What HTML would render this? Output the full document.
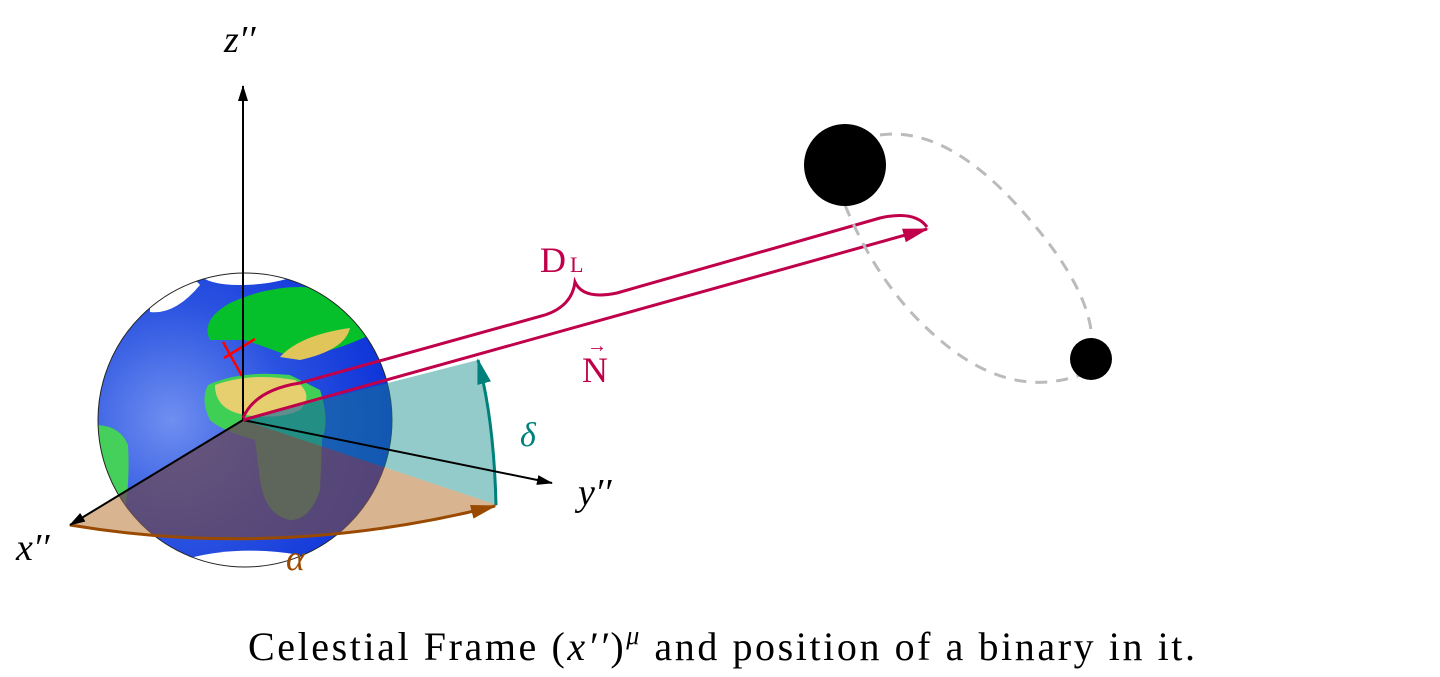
<!DOCTYPE html>
<html><head><meta charset="utf-8"><style>
html,body{margin:0;padding:0;background:#fff;width:1440px;height:677px;overflow:hidden}
svg{display:block}
text{font-family:"Liberation Serif",serif}
</style></head><body>
<svg width="1440" height="677" viewBox="0 0 1440 677" xmlns="http://www.w3.org/2000/svg">
<defs>
<radialGradient id="oc" cx="0.25" cy="0.5" r="0.8">
<stop offset="0" stop-color="#6f8ff0"/><stop offset="0.5" stop-color="#2a52e0"/><stop offset="1" stop-color="#0a2fd8"/>
</radialGradient>
<marker id="ab" markerWidth="16" markerHeight="10" refX="15" refY="5" orient="auto" markerUnits="userSpaceOnUse"><path d="M0,0 L16,5 L0,10 Z" fill="#000"/></marker>
<marker id="ar" markerWidth="26" markerHeight="14" refX="24" refY="7" orient="auto" markerUnits="userSpaceOnUse"><path d="M0,0 L26,7 L0,14 Z" fill="#c0004a"/></marker>
<marker id="ao" markerWidth="26" markerHeight="14" refX="24" refY="7" orient="auto" markerUnits="userSpaceOnUse"><path d="M0,0 L26,7 L0,14 Z" fill="#9a4a00"/></marker>
<marker id="at" markerWidth="26" markerHeight="14" refX="24" refY="7" orient="auto" markerUnits="userSpaceOnUse"><path d="M0,0 L26,7 L0,14 Z" fill="#00807a"/></marker>
<clipPath id="gc"><circle cx="245" cy="420" r="147"/></clipPath>
</defs>
<circle cx="245" cy="420" r="147" fill="url(#oc)"/>
<g clip-path="url(#gc)">
<path d="M150,300 Q190,270 200,285 Q175,315 150,312 Z" fill="#fff"/>
<path d="M195,268 L310,270 Q280,285 240,285 Q200,285 195,268Z" fill="#fff"/>
<path d="M230,303 Q280,280 330,290 L380,300 L380,330 Q350,345 330,350 L300,360 Q260,345 245,340 L210,340 Q200,320 230,303Z" fill="#05c02a"/>
<path d="M280,357 Q300,335 350,328 Q345,350 300,360Z" fill="#e0c55a"/>
<path d="M208,385 Q240,370 290,375 L320,390 Q330,420 322,440 L320,490 Q310,520 290,520 Q265,515 260,480 L255,440 Q220,430 210,420 Q200,400 208,385Z" fill="#3fcf55"/>
<path d="M215,385 Q250,372 295,380 Q315,395 300,410 Q280,420 245,415 Q215,410 215,385Z" fill="#e6cf6e"/>
<path d="M95,425 Q120,425 128,445 Q130,480 125,510 L98,510Z" fill="#44d05a"/>
<path d="M190,558 Q240,545 300,555 L290,575 L190,575Z" fill="#fff"/>
</g>
<circle cx="245" cy="420" r="147" fill="none" stroke="#222" stroke-width="1"/>
<line x1="223" y1="342" x2="242" y2="376" stroke="#f00" stroke-width="2.5"/>
<line x1="224" y1="358" x2="255" y2="339" stroke="#f00" stroke-width="2.5"/>
<path d="M243,420 L70,525 Q280,560 497,505 Z" fill="rgba(190,130,70,0.6)"/>
<path d="M243,420 L70,525 Q280,560 497,505 Z" fill="rgba(40,30,110,0.45)" clip-path="url(#gc)"/>
<path d="M243,420 L497,505 Q492,420 478,360 Z" fill="rgba(40,150,150,0.5)"/>
<path d="M243,420 L497,505 Q492,420 478,360 Z" fill="rgba(0,60,170,0.3)" clip-path="url(#gc)"/>
<path d="M70,525 Q280,560 495,506" fill="none" stroke="#9a4a00" stroke-width="3" marker-end="url(#ao)"/>
<path d="M496,505 Q494,420 478,360" fill="none" stroke="#00807a" stroke-width="3" marker-end="url(#at)"/>
<line x1="243" y1="420" x2="243" y2="86" stroke="#000" stroke-width="2" marker-end="url(#ab)"/>
<line x1="243" y1="420" x2="70" y2="525" stroke="#000" stroke-width="2" marker-end="url(#ab)"/>
<line x1="243" y1="420" x2="552" y2="483" stroke="#000" stroke-width="2" marker-end="url(#ab)"/>
<line x1="243" y1="420" x2="927" y2="229" stroke="#c0004a" stroke-width="3" marker-end="url(#ar)"/>
<path d="M243,418 Q255,390 300,383 L545,315 Q572,306 575,282 Q583,300 617,293 L880,218 Q915,210 927,227" fill="none" stroke="#c0004a" stroke-width="3"/>
<path d="M880,135 Q950,125 1030,220 Q1090,290 1092,340" fill="none" stroke="#bbb" stroke-width="3" stroke-dasharray="12,9"/>
<path d="M845,205 Q880,290 940,340 Q1010,400 1080,375" fill="none" stroke="#bbb" stroke-width="3" stroke-dasharray="12,9"/>
<circle cx="845" cy="165" r="41" fill="#000"/>
<circle cx="1091" cy="359" r="21" fill="#000"/>
<text x="224" y="52" font-size="38" font-style="italic">z′′</text>
<text x="578" y="505" font-size="38" font-style="italic">y′′</text>
<text x="16" y="560" font-size="38" font-style="italic">x′′</text>
<text x="286" y="570" font-size="36" font-style="italic" fill="#9a4a00">α</text>
<text x="520" y="446" font-size="34" font-style="italic" fill="#00807a">δ</text>
<text x="540" y="272" font-size="36" fill="#c0004a">D<tspan font-size="22" dx="4">L</tspan></text>
<text x="582" y="382" font-size="36" fill="#c0004a">N</text>
<text x="587" y="352" font-size="20" fill="#c0004a">→</text>
<text x="248" y="660" font-size="40" textLength="947" lengthAdjust="spacing">Celestial Frame (<tspan font-style="italic">x′′</tspan>)<tspan font-size="26" dy="-16" font-style="italic">μ</tspan><tspan dy="16"> and position of a binary in it.</tspan></text>
</svg>
</body></html>
